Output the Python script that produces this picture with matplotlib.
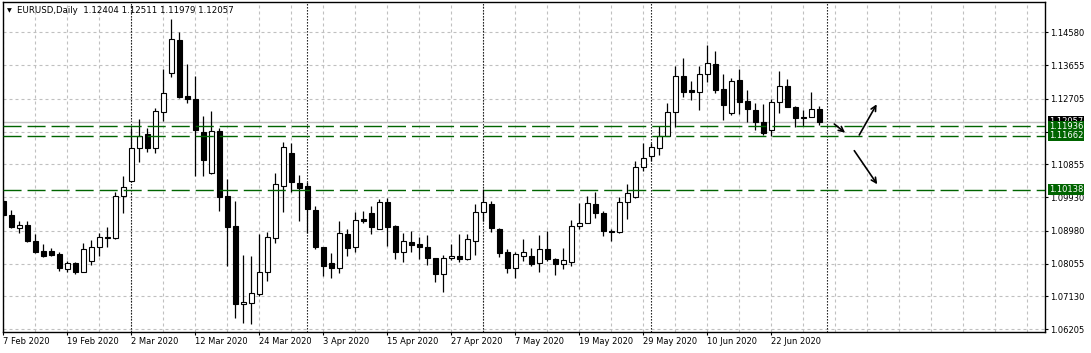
import matplotlib
matplotlib.use('Agg')
import matplotlib.pyplot as plt

# EURUSD daily candles, 7 Feb 2020 .. 30 Jun 2020 (one entry per trading day)
opens = [1.09824, 1.09429, 1.09072, 1.09147, 1.08696, 1.08414, 1.08414, 1.08329, 1.07897, 1.08066,
         1.07831, 1.08141, 1.08517, 1.08790, 1.08790, 1.09974, 1.10397, 1.11309, 1.11704, 1.11309,
         1.12343, 1.13424, 1.14364, 1.12785, 1.12700, 1.11760, 1.10623, 1.11798, 1.09965, 1.09119,
         1.06910, 1.06938, 1.07192, 1.07831, 1.08771, 1.10256, 1.11168, 1.10322, 1.10247, 1.09570,
         1.08517, 1.08066, 1.07925, 1.08884, 1.08517, 1.09316, 1.09476, 1.09044, 1.09786, 1.09119,
         1.08376, 1.08658, 1.08611, 1.08536, 1.08226, 1.07756, 1.08207, 1.08273, 1.08179, 1.08696,
         1.09504, 1.09730, 1.09025, 1.08376, 1.07925, 1.08282, 1.08282, 1.08066, 1.08461, 1.08179,
         1.08038, 1.08094, 1.09128, 1.09194, 1.09730, 1.09476, 1.08987, 1.08940, 1.09805, 1.09946,
         1.10773, 1.11102, 1.11309, 1.11666, 1.12324, 1.13358, 1.12954, 1.12907, 1.13396, 1.13678,
         1.12973, 1.12315, 1.13236, 1.12644, 1.12390, 1.12042, 1.11826, 1.12606, 1.13067, 1.12484,
         1.12183, 1.12183, 1.12404]
highs = [1.09852, 1.09570, 1.09260, 1.09260, 1.08884, 1.08602, 1.08508, 1.08376, 1.08132, 1.08113,
         1.08630, 1.08724, 1.08931, 1.09081, 1.10068, 1.10529, 1.11873, 1.12136, 1.11873, 1.12437,
         1.13546, 1.14956, 1.14580, 1.13687, 1.13349, 1.12221, 1.12362, 1.11892, 1.10444, 1.09824,
         1.08301, 1.08273, 1.08884, 1.08959, 1.10604, 1.11478, 1.11450, 1.10557, 1.10369, 1.09683,
         1.08536, 1.08348, 1.09260, 1.09034, 1.09514, 1.09542, 1.09683, 1.09871, 1.09918, 1.09147,
         1.08931, 1.08978, 1.08799, 1.08865, 1.08226, 1.08301, 1.08602, 1.08884, 1.08884, 1.09730,
         1.10162, 1.09824, 1.09053, 1.08470, 1.08376, 1.08752, 1.08489, 1.08865, 1.08978, 1.08226,
         1.08489, 1.09288, 1.09758, 1.09974, 1.10068, 1.09542, 1.09025, 1.09946, 1.10294, 1.10952,
         1.11450, 1.11469, 1.11948, 1.12578, 1.13631, 1.13866, 1.13208, 1.13631, 1.14223, 1.14054,
         1.13405, 1.13302, 1.13546, 1.12954, 1.12578, 1.12550, 1.12700, 1.13490, 1.13264, 1.12503,
         1.12390, 1.12888, 1.12511]
lows = [1.09401, 1.09072, 1.08912, 1.08677, 1.08348, 1.08254, 1.08282, 1.07859, 1.07812, 1.07765,
        1.07812, 1.08019, 1.08273, 1.08536, 1.08752, 1.09495, 1.10369, 1.10933, 1.11196, 1.11187,
        1.12089, 1.13330, 1.12719, 1.12578, 1.10538, 1.10538, 1.10576, 1.09551, 1.08000, 1.06534,
        1.06374, 1.06355, 1.07145, 1.07568, 1.08649, 1.09523, 1.10087, 1.09269, 1.08931, 1.08461,
        1.07709, 1.07662, 1.07803, 1.08273, 1.08395, 1.09194, 1.08893, 1.09025, 1.08564, 1.08179,
        1.08113, 1.08395, 1.08179, 1.08019, 1.07549, 1.07267, 1.08160, 1.08094, 1.08160, 1.08301,
        1.09260, 1.08940, 1.08254, 1.07803, 1.07662, 1.08141, 1.08000, 1.07831, 1.08141, 1.07737,
        1.07897, 1.08000, 1.09025, 1.09194, 1.09354, 1.08846, 1.08705, 1.08931, 1.09316, 1.09918,
        1.10670, 1.10961, 1.11121, 1.11666, 1.11920, 1.12747, 1.12672, 1.12390, 1.13170, 1.12879,
        1.12108, 1.12249, 1.12268, 1.12061, 1.11826, 1.11685, 1.11666, 1.12315, 1.12484, 1.11920,
        1.11939, 1.12183, 1.11979]
closes = [1.09429, 1.09100, 1.09147, 1.08705, 1.08376, 1.08282, 1.08301, 1.07925, 1.08066, 1.07831,
          1.08461, 1.08517, 1.08799, 1.08809, 1.09974, 1.10228, 1.11309, 1.11666, 1.11309, 1.12362,
          1.12860, 1.14383, 1.12747, 1.12691, 1.11826, 1.10980, 1.11798, 1.09946, 1.09100, 1.06910,
          1.06966, 1.07220, 1.07831, 1.08799, 1.10294, 1.11337, 1.10369, 1.10200, 1.09608, 1.08536,
          1.08000, 1.07925, 1.08912, 1.08508, 1.09288, 1.09269, 1.09100, 1.09786, 1.09100, 1.08376,
          1.08696, 1.08583, 1.08536, 1.08226, 1.07756, 1.08207, 1.08273, 1.08179, 1.08743, 1.09504,
          1.09786, 1.09072, 1.08348, 1.07925, 1.08320, 1.08376, 1.08047, 1.08461, 1.08179, 1.08038,
          1.08151, 1.09128, 1.09213, 1.09758, 1.09476, 1.08987, 1.08940, 1.09805, 1.10040, 1.10773,
          1.11027, 1.11337, 1.11666, 1.12324, 1.13358, 1.12907, 1.12907, 1.13396, 1.13706, 1.12954,
          1.12531, 1.13217, 1.12625, 1.12418, 1.12042, 1.11751, 1.12606, 1.13076, 1.12484, 1.12155,
          1.12155, 1.12418, 1.12057]

date_labels = ['7 Feb 2020', '19 Feb 2020', '2 Mar 2020', '12 Mar 2020', '24 Mar 2020',
               '3 Apr 2020', '15 Apr 2020', '27 Apr 2020', '7 May 2020', '19 May 2020',
               '29 May 2020', '10 Jun 2020', '22 Jun 2020']
month_starts = [16, 38, 60, 81, 103]          # bar index of first day of month
price_ticks = [1.14580, 1.13655, 1.12705, 1.11780, 1.10855,
               1.09930, 1.08980, 1.08055, 1.07130, 1.06205]
hidden_tick = 1.11780                          # label sits under the green boxes
levels = [1.11936, 1.11662, 1.10138]           # green horizontal lines
# hand-drawn arrows: (bar, price) start -> end
arrow_starts = [(103.85, 1.11994), (106.97, 1.11684), (106.35, 1.11242)]
arrow_ends = [(105.20, 1.11749), (109.15, 1.12550), (109.22, 1.10294)]

GREEN = '#006400'
GRID = '#c0c0c0'

fig = plt.figure(figsize=(10.91, 3.53), dpi=100)
ax = fig.add_axes([2.7 / 1091, 21.3 / 353, 1042.3 / 1091, 329.4 / 353])
ax.set_xlim(-0.1, 130.19)
ax.set_ylim(1.06137, 1.15426)

# grid
for gx in range(0, 131, 4):
    ax.axvline(gx, color=GRID, lw=0.8, ls=(0, (2.7, 2.7)), zorder=0)
for gy in price_ticks:
    ax.axhline(gy, color=GRID, lw=0.8, ls=(0, (2.7, 2.7)), zorder=0)

# period separators
for m in month_starts:
    ax.axvline(m, color='black', lw=0.8, ls=(0, (1.2, 1.5)), zorder=1)

# current price line
ax.axhline(closes[-1], color=GRID, lw=1.0, zorder=1)

# candles
x = list(range(len(opens)))
ax.vlines(x, lows, highs, color='black', lw=0.9, zorder=3)
bottoms = [min(o, c) for o, c in zip(opens, closes)]
heights = [abs(c - o) for o, c in zip(opens, closes)]
faces = ['white' if c >= o else 'black' for o, c in zip(opens, closes)]
ax.bar(x, heights, bottom=bottoms, width=0.56, color=faces,
       edgecolor='black', linewidth=0.8, zorder=4)

# support / resistance lines
for lv in levels:
    ax.axhline(lv, color=GREEN, lw=1.0, ls=(0, (13, 4.3)), zorder=5)

# arrows
for s, e in zip(arrow_starts, arrow_ends):
    ax.annotate('', xy=e, xytext=s,
                arrowprops=dict(arrowstyle='->', color='black', lw=1.2,
                                mutation_scale=9, shrinkA=0, shrinkB=0),
                zorder=6)

# axes
for sp in ax.spines.values():
    sp.set_color('black')
    sp.set_linewidth(1.0)
ax.set_xticks(range(0, 8 * len(date_labels), 8))
ax.set_xticklabels(date_labels)
for lbl in ax.get_xticklabels():
    lbl.set_horizontalalignment('left')
ax.tick_params(axis='x', length=2.5, width=0.8, pad=1.5, labelsize=6)
ax.yaxis.tick_right()
ax.set_yticks(price_ticks)
ax.set_yticklabels(['' if p == hidden_tick else f'{p:.5f}' for p in price_ticks])
ax.tick_params(axis='y', length=2.5, width=0.8, pad=1.5, labelsize=6)

# price labels on right axis
ytr = ax.get_yaxis_transform()
ax.annotate(f'{closes[-1]:.5f}', xy=(1, closes[-1]), xycoords=ytr,
            xytext=(4, 0), textcoords='offset pixels', ha='left', va='center',
            color='white', fontsize=6, annotation_clip=False, zorder=9,
            bbox=dict(boxstyle='square,pad=0.12', fc='black', ec='none'))
for lv in levels:
    ax.annotate(f'{lv:.5f}', xy=(1, lv), xycoords=ytr,
                xytext=(4, 0), textcoords='offset pixels', ha='left', va='center',
                color='white', fontsize=6, annotation_clip=False, zorder=10,
                bbox=dict(boxstyle='square,pad=0.12', fc=GREEN, ec='none'))

# header
fig.text(7 / 1091, 1 - 10.5 / 353, '\u25bc', fontsize=4.5, va='center')
fig.text(17 / 1091, 1 - 10.5 / 353,
         f'EURUSD,Daily  {opens[-1]:.5f} {highs[-1]:.5f} {lows[-1]:.5f} {closes[-1]:.5f}',
         fontsize=6.2, va='center')

fig.savefig('out.png', dpi=100, facecolor='white')
